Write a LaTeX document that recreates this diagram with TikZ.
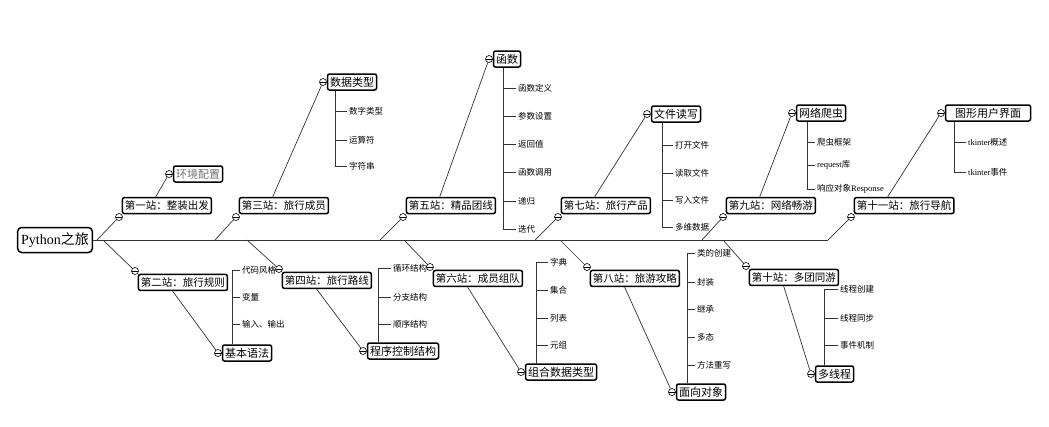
\documentclass[tikz,border=0pt]{standalone}
\usepackage{fontspec}
\setmainfont{Liberation Serif}
\newfontfamily\cjk{Noto Sans CJK SC}
\usetikzlibrary{positioning}

\begin{document}
\begin{tikzpicture}[x=1pt,y=-1pt,
    box/.style={draw, rounded corners=2pt, line width=1.5pt, inner sep=2.5pt, fill=white},
    root/.style={box, rounded corners=4pt, font=\cjk\fontsize{14}{16}\selectfont, inner sep=3.5pt, minimum height=25pt},
    station/.style={box, font=\cjk\fontsize{10.5}{12}\selectfont, minimum height=16pt, inner ysep=1pt},
    topic/.style={box, font=\cjk\fontsize{11}{13}\selectfont, minimum height=16pt, inner ysep=1pt},
    leaf/.style={anchor=west, inner sep=2pt, font=\cjk\fontsize{8.5}{10}\selectfont},
    fold/.style={circle, draw, fill=white, line width=0.6pt, minimum size=7pt, inner sep=0pt,
      path picture={\draw[line width=0.6pt] (path picture bounding box.west) -- (path picture bounding box.east);}},
    link/.style={draw=black!80, line width=0.7pt}]
\useasboundingbox (0,0) rectangle (1049,426);

% spine
\node[root] (py) at (55,240) {\textrm{Python}之旅};
\coordinate (s1) at (97,240);  \coordinate (s2) at (103,240);
\coordinate (s3) at (215,240); \coordinate (s4) at (247,240);
\coordinate (s5) at (380,240); \coordinate (s6) at (404,240);
\coordinate (s7) at (535,240); \coordinate (s8) at (560,240);
\coordinate (s9) at (702,240); \coordinate (s10) at (723,240);
\coordinate (end) at (828,240);
\draw[link] (py.east) -- (end);

% stations
\foreach \i/\x in {1/119, 3/236, 5/403, 7/558, 9/723, 11/851}
  \node[fold] (f\i) at (\x,217) {};
\foreach \i/\x/\y in {2/135/271, 4/279/269, 6/430/267, 8/587/267, 10/746/266}
  \node[fold] (f\i) at (\x,\y) {};
\node[station, above right=0pt of f1] (st1) {第一站：整装出发};
\node[station, below right=0pt of f2] (st2) {第二站：旅行规则};
\node[station, above right=0pt of f3] (st3) {第三站：旅行成员};
\node[station, below right=0pt of f4] (st4) {第四站：旅行路线};
\node[station, above right=0pt of f5] (st5) {第五站：精品团线};
\node[station, below right=0pt of f6] (st6) {第六站：成员组队};
\node[station, above right=0pt of f7] (st7) {第七站：旅行产品};
\node[station, below right=0pt of f8] (st8) {第八站：旅游攻略};
\node[station, above right=0pt of f9] (st9) {第九站：网络畅游};
\node[station, below right=0pt of f10] (st10) {第十站：多团同游};
\node[station, above right=0pt of f11] (st11) {第十一站：旅行导航};
\foreach \i in {1,...,10} \draw[link] (s\i) -- (f\i);
\draw[link] (end) -- (f11);

% topics
\foreach \i/\x/\y in {1/169/174, 2/218/353, 3/323/82, 4/363/351, 5/489/59, 6/521/372,
    7/647/114, 8/672/392, 9/792/113, 10/811/374, 11/941/113}
  \node[fold] (g\i) at (\x,\y) {};
\node[topic, right=0pt of g1, text=black!55] (tp1) {环境配置};
\node[topic, right=0pt of g2] (tp2) {基本语法};
\node[topic, right=0pt of g3] (tp3) {数据类型};
\node[topic, right=0pt of g4] (tp4) {程序控制结构};
\node[topic, right=0pt of g5] (tp5) {函数};
\node[topic, right=0pt of g6] (tp6) {组合数据类型};
\node[topic, right=0pt of g7] (tp7) {文件读写};
\node[topic, right=0pt of g8] (tp8) {面向对象};
\node[topic, right=0pt of g9] (tp9) {网络爬虫};
\node[topic, right=0pt of g10] (tp10) {多线程};
\node[topic, right=0pt of g11, minimum width=85pt] (tp11) {图形用户界面};
\foreach \i in {1,3,5,7,9,11} \draw[link] ([xshift=34pt]st\i.north west) -- (g\i);
\foreach \i in {2,4,6,8,10} \draw[link] ([xshift=35pt]st\i.south west) -- (g\i);

% leaves
\foreach \y/\t [count=\i] in {270/代码风格, 297/变量, 324/输入、输出}
  \node[leaf] (c2-\i) at (240,\y) {\t};
\foreach \i in {1,...,3} \draw[link] ([xshift=11pt]tp2.north west) |- (c2-\i.west);

\foreach \y/\t [count=\i] in {111/数字类型, 140/运算符, 166/字符串}
  \node[leaf] (c3-\i) at (347,\y) {\t};
\foreach \i in {1,...,3} \draw[link] ([xshift=9pt]tp3.south west) |- (c3-\i.west);

\foreach \y/\t [count=\i] in {268/循环结构, 297/分支结构, 324/顺序结构}
  \node[leaf] (c4-\i) at (391,\y) {\t};
\foreach \i in {1,...,3} \draw[link] ([xshift=12pt]tp4.north west) |- (c4-\i.west);

\foreach \y/\t [count=\i] in {88/函数定义, 116/参数设置, 144/返回值, 172/函数调用, 201/递归, 229/迭代}
  \node[leaf] (c5-\i) at (516,\y) {\t};
\foreach \i in {1,...,6} \draw[link] ([xshift=11pt]tp5.south west) |- (c5-\i.west);

\foreach \y/\t [count=\i] in {262/字典, 290/集合, 318/列表, 345/元组}
  \node[leaf] (c6-\i) at (548,\y) {\t};
\foreach \i in {1,...,4} \draw[link] ([xshift=12pt]tp6.north west) |- (c6-\i.west);

\foreach \y/\t [count=\i] in {145/打开文件, 173/读取文件, 200/写入文件, 227/多维数据}
  \node[leaf] (c7-\i) at (673,\y) {\t};
\foreach \i in {1,...,4} \draw[link] ([xshift=12pt]tp7.south west) |- (c7-\i.west);

\foreach \y/\t [count=\i] in {253/类的创建, 282/封装, 309/继承, 337/多态, 365/方法重写}
  \node[leaf] (c8-\i) at (695,\y) {\t};
\foreach \i in {1,...,5} \draw[link] ([xshift=12pt]tp8.north west) |- (c8-\i.west);

\foreach \y/\t [count=\i] in {142/爬虫框架, 165/\textrm{request}库, 189/响应对象\textrm{Response}}
  \node[leaf] (c9-\i) at (815,\y) {\t};
\foreach \i in {1,...,3} \draw[link] ([xshift=12pt]tp9.south west) |- (c9-\i.west);

\foreach \y/\t [count=\i] in {289/线程创建, 318/线程同步, 345/事件机制}
  \node[leaf] (c10-\i) at (838,\y) {\t};
\foreach \i in {1,...,3} \draw[link] ([xshift=10pt]tp10.north west) |- (c10-\i.west);

\foreach \y/\t [count=\i] in {142/\textrm{tkinter}概述, 172/\textrm{tkinter}事件}
  \node[leaf] (c11-\i) at (966,\y) {\t};
\foreach \i in {1,2} \draw[link] ([xshift=10pt]tp11.south west) |- (c11-\i.west);
\end{tikzpicture}
\end{document}
